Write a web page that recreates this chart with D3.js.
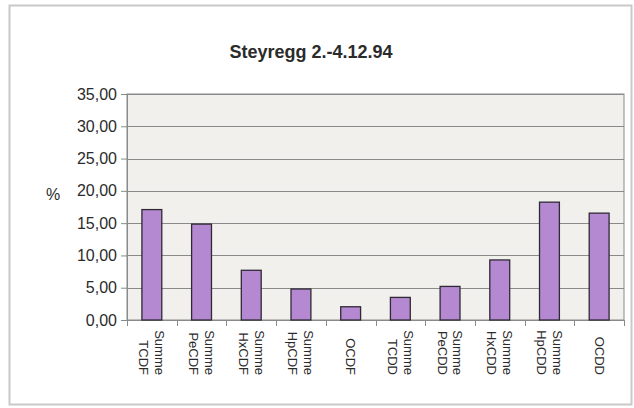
<!DOCTYPE html>
<html>
<head>
<meta charset="utf-8">
<script src="https://cdn.jsdelivr.net/npm/d3@7"></script>
<style>
  html, body { margin: 0; padding: 0; background: #ffffff; }
  svg { display: block; }
  text { font-family: "Liberation Sans", Arial, sans-serif; fill: #2b2b2b; }
</style>
</head>
<body>
<svg id="chart" width="634" height="408"></svg>
<script>
// Dioxin / furan homologue profile, share in percent
const categoryTop = ["Summe", "Summe", "Summe", "Summe", "", "Summe", "Summe", "Summe", "Summe", ""];
const categoryBottom = ["TCDF", "PeCDF", "HxCDF", "HpCDF", "OCDF", "TCDD", "PeCDD", "HxCDD", "HpCDD", "OCDD"];
const shares = [17.1, 14.85, 7.7, 4.8, 2.05, 3.5, 5.2, 9.3, 18.25, 16.55];
const yTicks = [0, 5, 10, 15, 20, 25, 30, 35];
const chartTitle = "Steyregg 2.-4.12.94";
const yLabel = "%";

const svg = d3.select("#chart");
const W = 634, H = 408;
const plot = { left: 127, right: 624, top: 94, bottom: 320 };

// outer frame
svg.append("rect")
  .attr("x", 9.5).attr("y", 5.5)
  .attr("width", W - 12).attr("height", H - 9)
  .attr("fill", "#ffffff")
  .attr("stroke", "#c9c9c9").attr("stroke-width", 2);

const x = d3.scaleBand()
  .domain(d3.range(categoryBottom.length))
  .range([plot.left, plot.right])
  .paddingInner(0.6).paddingOuter(0.3);

const y = d3.scaleLinear().domain([0, 35]).range([plot.bottom, plot.top]);

// plot background
svg.append("rect")
  .attr("x", plot.left).attr("y", plot.top)
  .attr("width", plot.right - plot.left).attr("height", plot.bottom - plot.top)
  .attr("fill", "#f2f0ed")
  .attr("stroke", "#8a8a8a").attr("stroke-width", 1);

// horizontal gridlines
svg.append("g").selectAll("line")
  .data(yTicks.filter(v => v > 0))
  .join("line")
  .attr("x1", plot.left).attr("x2", plot.right)
  .attr("y1", d => Math.round(y(d)) + 0.5).attr("y2", d => Math.round(y(d)) + 0.5)
  .attr("stroke", "#8a8a8a").attr("stroke-width", 1);

// y axis
const yAxis = svg.append("g")
  .attr("transform", `translate(${plot.left},0)`)
  .call(d3.axisLeft(y).tickValues(yTicks).tickSize(6).tickPadding(4)
    .tickFormat(d => d3.format(".2f")(d).replace(".", ",")));
yAxis.select(".domain").attr("stroke", "#8a8a8a");
yAxis.selectAll(".tick line").attr("stroke", "#8a8a8a");
yAxis.selectAll(".tick text")
  .attr("font-size", 16).attr("fill", "#2b2b2b")
  .attr("font-family", "'Liberation Sans', Arial, sans-serif");

// x axis: ticks sit at category boundaries
const bounds = d3.range(categoryBottom.length + 1).map(i => plot.left + i * (plot.right - plot.left) / categoryBottom.length);
svg.append("line")
  .attr("x1", plot.left).attr("x2", plot.right)
  .attr("y1", plot.bottom + 0.5).attr("y2", plot.bottom + 0.5)
  .attr("stroke", "#8a8a8a");
svg.append("g").selectAll("line")
  .data(bounds)
  .join("line")
  .attr("x1", d => Math.round(d) + 0.5).attr("x2", d => Math.round(d) + 0.5)
  .attr("y1", plot.bottom).attr("y2", plot.bottom + 6)
  .attr("stroke", "#8a8a8a");

// bars
svg.append("g").selectAll("rect")
  .data(shares)
  .join("rect")
  .attr("x", (d, i) => x(i))
  .attr("y", d => y(d))
  .attr("width", x.bandwidth())
  .attr("height", d => y(0) - y(d))
  .attr("fill", "#b489d2")
  .attr("stroke", "#2e2a33").attr("stroke-width", 1.3);

// rotated category labels (two lines, reading top to bottom, end-aligned)
const labels = svg.append("g").selectAll("g")
  .data(categoryBottom.map((b, i) => ({ top: categoryTop[i], bottom: b, i })))
  .join("g")
  .attr("transform", d => `translate(${x(d.i) + x.bandwidth() / 2},375) rotate(90)`);
labels.each(function (d) {
  const g = d3.select(this);
  const lines = d.top ? [d.top, d.bottom] : [d.bottom];
  const lh = 16;
  const offset = -(lines.length - 1) * lh / 2;
  lines.forEach((t, k) => {
    g.append("text")
      .attr("x", 0)
      .attr("y", offset + k * lh)
      .attr("dy", "0.35em")
      .attr("text-anchor", "end")
      .attr("font-size", 13)
      .text(t);
  });
});

// title
svg.append("text")
  .attr("x", 311).attr("y", 58)
  .attr("text-anchor", "middle")
  .attr("font-size", 18).attr("font-weight", "bold")
  .text(chartTitle);

// y label
svg.append("text")
  .attr("x", 53).attr("y", 200)
  .attr("text-anchor", "middle")
  .attr("font-size", 16)
  .text(yLabel);
</script>
</body>
</html>
